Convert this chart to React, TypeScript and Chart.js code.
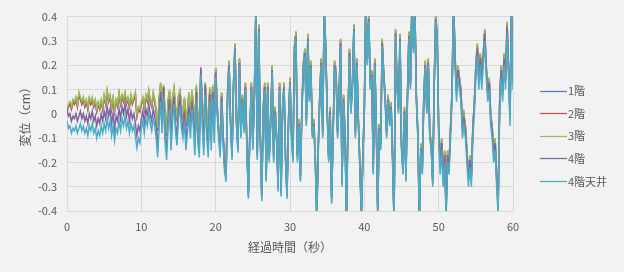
import React, { useEffect, useRef } from "react";
import { Chart, registerables } from "chart.js";

Chart.register(...registerables);

// sample spacing of the records (seconds)
const TIME_STEP = 0.2;
const SERIES_NAMES = ["1階", "2階", "3階", "4階", "4階天井"];
const SERIES_COLORS = ["#4F81BD", "#C0504D", "#9BBB59", "#8064A2", "#4BACC6"];
const X_TICKS_MAX = 60;
const Y_MIN = -0.4;
const Y_MAX = 0.4;

// 1階
const floor1 = [
  0.01,0.03,0.04,0.02,0.05,0.04,0.06,0.03,0.08,0.06,
  0.04,0.06,0.03,0.05,0.02,0.06,0.04,0.06,0.03,0.05,
  0.01,0.04,0.02,0.05,0.02,0.07,0.04,0.09,0.05,0.07,
  0.02,0.06,0.01,0.05,0.03,0.08,0.04,0.07,0.05,0.08,
  0.04,0.06,0.03,0.07,0.04,0.06,0.08,-0.01,0.02,0.01,
  0.04,0.06,0.02,0.07,0.05,0.09,0.05,0.03,0.08,0.05,
  0.01,-0.07,0.06,0.12,0.03,0.11,-0.01,-0.09,0.05,0.09,
  -0.05,0.06,0.10,0.02,-0.02,0.07,0.09,0.03,-0.01,0.06,
  -0.05,0.01,0.08,-0.01,0.09,0.04,-0.07,0.11,-0.02,-0.08,
  0.18,0.04,-0.07,0.12,-0.01,-0.08,0.10,-0.05,0.11,-0.03,
  0.185,0.035,-0.065,-0.145,0.085,-0.085,-0.205,-0.245,0.085,0.215,
  -0.025,-0.165,0.125,0.285,-0.025,-0.135,0.225,-0.075,0.075,-0.055,
  0.125,-0.125,-0.325,-0.075,0.125,-0.125,0.075,0.425,-0.165,0.365,
  -0.075,-0.335,0.025,0.125,-0.255,0.125,-0.175,-0.025,0.195,-0.175,
  0.025,-0.095,-0.295,0.125,-0.315,0.025,0.125,-0.175,-0.325,-0.025,
  0.145,-0.075,-0.175,0.275,0.335,-0.175,-0.025,-0.255,0.025,0.205,
  0.265,-0.025,0.325,0.075,0.215,-0.075,-0.025,-0.175,-0.415,-0.135,
  0.075,0.225,-0.075,0.445,0.285,0.025,-0.175,0.025,-0.345,-0.075,
  0.215,0.175,-0.075,0.075,0.305,-0.275,0.075,-0.075,-0.425,-0.025,
  0.265,0.025,0.125,0.365,-0.075,0.225,-0.025,-0.205,-0.405,-0.175,
  0.025,0.475,0.225,0.405,0.125,0.175,-0.225,0.225,-0.025,-0.395,
  -0.045,-0.125,0.305,0.175,0.075,-0.075,0.075,-0.025,0.045,-0.175,
  -0.435,0.345,0.125,0.025,0.325,-0.125,-0.225,0.025,-0.255,0.075,
  0.335,0.125,0.465,0.275,0.445,0.075,-0.075,-0.425,-0.125,-0.225,
  0.075,0.215,0.025,0.225,-0.075,-0.125,-0.275,0.125,0.405,0.325,
  -0.055,-0.205,-0.105,-0.255,-0.155,-0.395,-0.155,-0.205,-0.055,0.095,
  0.475,0.245,0.095,0.195,0.145,0.095,-0.055,-0.005,-0.055,-0.155,
  -0.255,-0.175,-0.255,-0.055,0.045,0.195,0.285,0.145,0.245,0.145,
  0.245,0.345,0.195,0.095,0.145,-0.005,-0.055,-0.155,-0.105,-0.255,
  -0.375,0.045,0.195,0.095,0.245,0.145,0.375,0.195,-0.005,0.455,
  0.145,
];

// 2階
const floor2 = [
  0.01,0.03,0.04,0.02,0.05,0.04,0.06,0.03,0.08,0.06,
  0.04,0.06,0.03,0.05,0.02,0.06,0.04,0.06,0.03,0.05,
  0.01,0.04,0.02,0.05,0.02,0.07,0.04,0.09,0.05,0.07,
  0.02,0.06,0.01,0.05,0.03,0.08,0.04,0.07,0.05,0.08,
  0.04,0.06,0.03,0.07,0.04,0.06,0.08,-0.01,0.02,0.01,
  0.04,0.06,0.02,0.07,0.05,0.09,0.05,0.03,0.08,0.05,
  0.01,-0.07,0.06,0.12,0.03,0.11,-0.01,-0.09,0.05,0.09,
  -0.05,0.06,0.10,0.02,-0.02,0.07,0.09,0.03,-0.01,0.06,
  -0.05,0.01,0.08,-0.01,0.09,0.04,-0.07,0.11,-0.02,-0.08,
  0.18,0.04,-0.07,0.12,-0.01,-0.08,0.10,-0.05,0.11,-0.03,
  0.185,0.035,-0.065,-0.145,0.085,-0.085,-0.205,-0.245,0.085,0.215,
  -0.025,-0.165,0.125,0.285,-0.025,-0.135,0.225,-0.075,0.075,-0.055,
  0.125,-0.125,-0.325,-0.075,0.125,-0.125,0.075,0.425,-0.165,0.365,
  -0.075,-0.335,0.025,0.125,-0.255,0.125,-0.175,-0.025,0.195,-0.175,
  0.025,-0.095,-0.295,0.125,-0.315,0.025,0.125,-0.175,-0.325,-0.025,
  0.145,-0.075,-0.175,0.275,0.335,-0.175,-0.025,-0.255,0.025,0.205,
  0.265,-0.025,0.325,0.075,0.215,-0.075,-0.025,-0.175,-0.415,-0.135,
  0.075,0.225,-0.075,0.445,0.285,0.025,-0.175,0.025,-0.345,-0.075,
  0.215,0.175,-0.075,0.075,0.305,-0.275,0.075,-0.075,-0.425,-0.025,
  0.265,0.025,0.125,0.365,-0.075,0.225,-0.025,-0.205,-0.405,-0.175,
  0.025,0.475,0.225,0.405,0.125,0.175,-0.225,0.225,-0.025,-0.395,
  -0.045,-0.125,0.305,0.175,0.075,-0.075,0.075,-0.025,0.045,-0.175,
  -0.435,0.345,0.125,0.025,0.325,-0.125,-0.225,0.025,-0.255,0.075,
  0.335,0.125,0.465,0.275,0.445,0.075,-0.075,-0.425,-0.125,-0.225,
  0.075,0.215,0.025,0.225,-0.075,-0.125,-0.275,0.125,0.405,0.325,
  -0.055,-0.205,-0.105,-0.255,-0.155,-0.395,-0.155,-0.205,-0.055,0.095,
  0.475,0.245,0.095,0.195,0.145,0.095,-0.055,-0.005,-0.055,-0.155,
  -0.255,-0.175,-0.255,-0.055,0.045,0.195,0.285,0.145,0.245,0.145,
  0.245,0.345,0.195,0.095,0.145,-0.005,-0.055,-0.155,-0.105,-0.255,
  -0.375,0.045,0.195,0.095,0.245,0.145,0.375,0.195,-0.005,0.455,
  0.145,
];

// 3階
const floor3 = [
  0.02,0.04,0.05,0.03,0.06,0.05,0.07,0.04,0.09,0.07,
  0.05,0.07,0.04,0.06,0.03,0.07,0.05,0.07,0.04,0.06,
  0.02,0.05,0.03,0.06,0.03,0.08,0.05,0.10,0.06,0.08,
  0.03,0.07,0.02,0.06,0.04,0.09,0.05,0.08,0.06,0.09,
  0.05,0.07,0.04,0.08,0.05,0.07,0.09,0.00,0.03,0.02,
  0.05,0.07,0.03,0.08,0.06,0.10,0.06,0.04,0.09,0.06,
  0.02,-0.06,0.07,0.13,0.04,0.12,0.00,-0.08,0.06,0.10,
  -0.04,0.07,0.11,0.03,-0.01,0.08,0.10,0.04,0.00,0.07,
  -0.04,0.02,0.09,0.00,0.10,0.05,-0.06,0.12,-0.01,-0.07,
  0.19,0.05,-0.06,0.13,0.00,-0.07,0.11,-0.04,0.12,-0.02,
  0.19,0.04,-0.06,-0.14,0.09,-0.08,-0.20,-0.24,0.09,0.22,
  -0.02,-0.16,0.13,0.29,-0.02,-0.13,0.23,-0.07,0.08,-0.05,
  0.13,-0.12,-0.32,-0.07,0.13,-0.12,0.08,0.43,-0.16,0.37,
  -0.07,-0.33,0.03,0.13,-0.25,0.13,-0.17,-0.02,0.20,-0.17,
  0.03,-0.09,-0.29,0.13,-0.31,0.03,0.13,-0.17,-0.32,-0.02,
  0.15,-0.07,-0.17,0.28,0.34,-0.17,-0.02,-0.25,0.03,0.21,
  0.27,-0.02,0.33,0.08,0.22,-0.07,-0.02,-0.17,-0.41,-0.13,
  0.08,0.23,-0.07,0.45,0.29,0.03,-0.17,0.03,-0.34,-0.07,
  0.22,0.18,-0.07,0.08,0.31,-0.27,0.08,-0.07,-0.42,-0.02,
  0.27,0.03,0.13,0.37,-0.07,0.23,-0.02,-0.20,-0.40,-0.17,
  0.03,0.48,0.23,0.41,0.13,0.18,-0.22,0.23,-0.02,-0.39,
  -0.04,-0.12,0.31,0.18,0.08,-0.07,0.08,-0.02,0.05,-0.17,
  -0.43,0.35,0.13,0.03,0.33,-0.12,-0.22,0.03,-0.25,0.08,
  0.34,0.13,0.47,0.28,0.45,0.08,-0.07,-0.42,-0.12,-0.22,
  0.08,0.22,0.03,0.23,-0.07,-0.12,-0.27,0.13,0.41,0.33,
  -0.05,-0.20,-0.10,-0.25,-0.15,-0.39,-0.15,-0.20,-0.05,0.10,
  0.48,0.25,0.10,0.20,0.15,0.10,-0.05,0.00,-0.05,-0.15,
  -0.25,-0.17,-0.25,-0.05,0.05,0.20,0.29,0.15,0.25,0.15,
  0.25,0.35,0.20,0.10,0.15,0.00,-0.05,-0.15,-0.10,-0.25,
  -0.37,0.05,0.20,0.10,0.25,0.15,0.38,0.20,0.00,0.46,
  0.15,
];

// 4階
const floor4 = [
  0.02,-0.01,0.00,-0.03,-0.01,-0.02,0.00,-0.03,-0.01,0.01,
  -0.02,0.00,-0.03,-0.01,-0.04,0.00,-0.02,0.01,-0.03,-0.01,
  -0.05,-0.02,-0.04,0.00,-0.03,0.01,-0.02,0.03,-0.01,0.02,
  -0.04,0.00,-0.06,-0.01,-0.03,0.02,-0.02,0.03,0.00,0.04,
  -0.01,0.02,-0.03,0.01,-0.02,0.00,-0.04,-0.09,-0.05,-0.07,
  -0.02,0.01,-0.04,0.02,-0.01,0.04,0.00,-0.03,0.02,-0.01,
  -0.06,-0.15,0.00,0.09,-0.05,0.11,-0.09,-0.15,-0.02,0.06,
  -0.12,0.01,0.07,-0.04,-0.10,0.02,0.06,-0.02,-0.07,0.01,
  -0.12,-0.04,0.03,-0.06,0.05,-0.01,-0.14,0.09,-0.09,-0.14,
  0.19,-0.01,-0.14,0.12,-0.07,-0.14,0.08,-0.11,0.09,-0.08,
  0.17,0.02,-0.08,-0.16,0.07,-0.10,-0.22,-0.26,0.07,0.20,
  -0.04,-0.18,0.11,0.27,-0.04,-0.15,0.21,-0.09,0.06,-0.07,
  0.11,-0.14,-0.34,-0.09,0.11,-0.14,0.06,0.41,-0.18,0.35,
  -0.09,-0.35,0.01,0.11,-0.27,0.11,-0.19,-0.04,0.18,-0.19,
  0.01,-0.11,-0.31,0.11,-0.33,0.01,0.11,-0.19,-0.34,-0.04,
  0.13,-0.09,-0.19,0.26,0.32,-0.19,-0.04,-0.27,0.01,0.19,
  0.25,-0.04,0.31,0.06,0.20,-0.09,-0.04,-0.19,-0.43,-0.15,
  0.06,0.21,-0.09,0.43,0.27,0.01,-0.19,0.01,-0.36,-0.09,
  0.20,0.16,-0.09,0.06,0.29,-0.29,0.06,-0.09,-0.44,-0.04,
  0.25,0.01,0.11,0.35,-0.09,0.21,-0.04,-0.22,-0.42,-0.19,
  0.01,0.46,0.21,0.39,0.11,0.16,-0.24,0.21,-0.04,-0.41,
  -0.06,-0.14,0.29,0.16,0.06,-0.09,0.06,-0.04,0.03,-0.19,
  -0.45,0.33,0.11,0.01,0.31,-0.14,-0.24,0.01,-0.27,0.06,
  0.32,0.11,0.45,0.26,0.43,0.06,-0.09,-0.44,-0.14,-0.24,
  0.06,0.20,0.01,0.21,-0.09,-0.14,-0.29,0.11,0.39,0.31,
  -0.07,-0.22,-0.12,-0.27,-0.17,-0.41,-0.17,-0.22,-0.07,0.08,
  0.46,0.23,0.08,0.18,0.13,0.08,-0.07,-0.02,-0.07,-0.17,
  -0.27,-0.19,-0.27,-0.07,0.03,0.18,0.27,0.13,0.23,0.13,
  0.23,0.33,0.18,0.08,0.13,-0.02,-0.07,-0.17,-0.12,-0.27,
  -0.39,0.03,0.18,0.08,0.23,0.13,0.36,0.18,-0.02,0.44,
  0.13,
];

// 4階天井
const floor4Ceiling = [
  -0.03,-0.06,-0.05,-0.08,-0.06,-0.07,-0.05,-0.08,-0.06,-0.04,
  -0.07,-0.05,-0.08,-0.06,-0.09,-0.05,-0.07,-0.04,-0.08,-0.06,
  -0.10,-0.07,-0.09,-0.05,-0.08,-0.04,-0.07,-0.02,-0.06,-0.03,
  -0.09,-0.05,-0.11,-0.06,-0.08,-0.03,-0.07,-0.02,-0.05,-0.01,
  -0.06,-0.03,-0.08,-0.04,-0.07,-0.05,-0.09,-0.14,-0.10,-0.12,
  -0.06,-0.03,-0.08,-0.02,-0.05,0.00,-0.04,-0.07,-0.02,-0.05,
  -0.10,-0.18,-0.04,0.05,-0.08,0.07,-0.12,-0.19,-0.05,0.02,
  -0.15,-0.03,0.04,-0.08,-0.13,-0.02,0.03,-0.06,-0.10,-0.03,
  -0.15,-0.08,0.00,-0.10,0.02,-0.05,-0.17,0.05,-0.12,-0.18,
  0.16,-0.05,-0.17,0.08,-0.10,-0.18,0.05,-0.15,0.06,-0.12,
  0.15,0.00,-0.10,-0.18,0.05,-0.12,-0.24,-0.28,0.05,0.18,
  -0.05,-0.19,0.10,0.26,-0.05,-0.16,0.20,-0.10,0.05,-0.08,
  0.10,-0.15,-0.35,-0.10,0.10,-0.15,0.05,0.40,-0.19,0.34,
  -0.10,-0.36,0.00,0.10,-0.28,0.10,-0.20,-0.05,0.17,-0.20,
  0.00,-0.12,-0.32,0.10,-0.34,0.00,0.10,-0.20,-0.35,-0.05,
  0.12,-0.10,-0.20,0.25,0.31,-0.20,-0.05,-0.28,0.00,0.18,
  0.24,-0.05,0.30,0.05,0.19,-0.10,-0.05,-0.20,-0.44,-0.16,
  0.05,0.20,-0.10,0.42,0.26,0.00,-0.20,0.00,-0.37,-0.10,
  0.19,0.15,-0.10,0.05,0.28,-0.30,0.05,-0.10,-0.45,-0.05,
  0.24,0.00,0.10,0.34,-0.10,0.20,-0.05,-0.23,-0.43,-0.20,
  0.00,0.45,0.20,0.38,0.10,0.15,-0.25,0.20,-0.05,-0.42,
  -0.07,-0.15,0.28,0.15,0.05,-0.10,0.05,-0.05,0.02,-0.20,
  -0.46,0.32,0.10,0.00,0.30,-0.15,-0.25,0.00,-0.28,0.05,
  0.31,0.10,0.44,0.25,0.42,0.05,-0.10,-0.45,-0.15,-0.25,
  0.05,0.19,0.00,0.20,-0.10,-0.15,-0.30,0.10,0.38,0.30,
  -0.10,-0.25,-0.15,-0.30,-0.20,-0.44,-0.20,-0.25,-0.10,0.05,
  0.43,0.20,0.05,0.15,0.10,0.05,-0.10,-0.05,-0.10,-0.20,
  -0.30,-0.22,-0.30,-0.10,0.00,0.15,0.24,0.10,0.20,0.10,
  0.20,0.30,0.15,0.05,0.10,-0.05,-0.10,-0.20,-0.15,-0.30,
  -0.42,0.00,0.15,0.05,0.20,0.10,0.33,0.15,-0.05,0.41,
  0.10,
];

const SERIES = [floor1, floor2, floor3, floor4, floor4Ceiling];

const FONT = '"Noto Sans CJK JP", "Noto Sans", sans-serif';
const TEXT_COLOR = "#595959";
const GRID_COLOR = "#D9D9D9";
const BG = "#F2F2F2";

const sideLegend = {
  id: "sideLegend",
  afterDraw(chart: any) {
    const { ctx } = chart;
    ctx.save();
    ctx.font = `11px ${FONT}`;
    ctx.textBaseline = "middle";
    ctx.textAlign = "left";
    chart.data.datasets.forEach((ds: any, i: number) => {
      const y = 90.5 + i * 22.6;
      ctx.strokeStyle = ds.borderColor;
      ctx.lineWidth = 1.25;
      ctx.beginPath();
      ctx.moveTo(540, Math.round(y) + 0.5);
      ctx.lineTo(567, Math.round(y) + 0.5);
      ctx.stroke();
      ctx.fillStyle = TEXT_COLOR;
      ctx.fillText(ds.label, 568, y + 0.5);
    });
    ctx.restore();
  },
};

export default function App() {
  const ref = useRef<HTMLCanvasElement | null>(null);

  useEffect(() => {
    document.body.style.margin = "0";
    const canvas = ref.current;
    if (!canvas) return;
    const datasets = SERIES.map((values, si) => ({
      label: SERIES_NAMES[si],
      data: values.map((v, i) => ({ x: Math.round(i * TIME_STEP * 10) / 10, y: v })),
      borderColor: SERIES_COLORS[si],
      backgroundColor: SERIES_COLORS[si],
      borderWidth: 1.5,
      pointRadius: 0,
      tension: 0,
      order: SERIES.length - si,
    }));
    const chart = new Chart(canvas, {
      type: "line",
      data: { datasets },
      plugins: [sideLegend],
      options: {
        animation: false,
        responsive: false,
        devicePixelRatio: 1,
        layout: { padding: { top: 14, right: 111, bottom: 0, left: 0 } },
        plugins: {
          legend: { display: false },
          tooltip: { enabled: false },
        },
        scales: {
          x: {
            type: "linear",
            min: 0,
            max: X_TICKS_MAX,
            afterFit: (s: any) => {
              s.height = 61;
            },
            ticks: {
              stepSize: 10,
              color: TEXT_COLOR,
              font: { family: FONT, size: 11 },
              padding: 9,
              maxRotation: 0,
            },
            grid: { color: GRID_COLOR, drawTicks: false },
            border: { color: GRID_COLOR },
            title: {
              display: true,
              text: "経過時間（秒）",
              color: TEXT_COLOR,
              font: { family: FONT, size: 12 },
              padding: { top: 0, bottom: 17 },
            },
          },
          y: {
            min: Y_MIN,
            max: Y_MAX,
            afterFit: (s: any) => {
              s.width = 67;
            },
            ticks: {
              stepSize: 0.1,
              color: TEXT_COLOR,
              font: { family: FONT, size: 11 },
              padding: 10,
              callback: (v: any) => String(Math.round(Number(v) * 10) / 10),
            },
            grid: { color: GRID_COLOR, drawTicks: false },
            border: { color: GRID_COLOR },
            title: {
              display: true,
              text: "変位（cm）",
              color: TEXT_COLOR,
              font: { family: FONT, size: 12 },
              padding: { top: 18, bottom: 0 },
            },
          },
        },
      },
    });
    return () => chart.destroy();
  }, []);

  return (
    <div style={{ width: 624, height: 272, background: BG }}>
      <canvas ref={ref} width={624} height={272} style={{ display: "block" }} />
    </div>
  );
}
